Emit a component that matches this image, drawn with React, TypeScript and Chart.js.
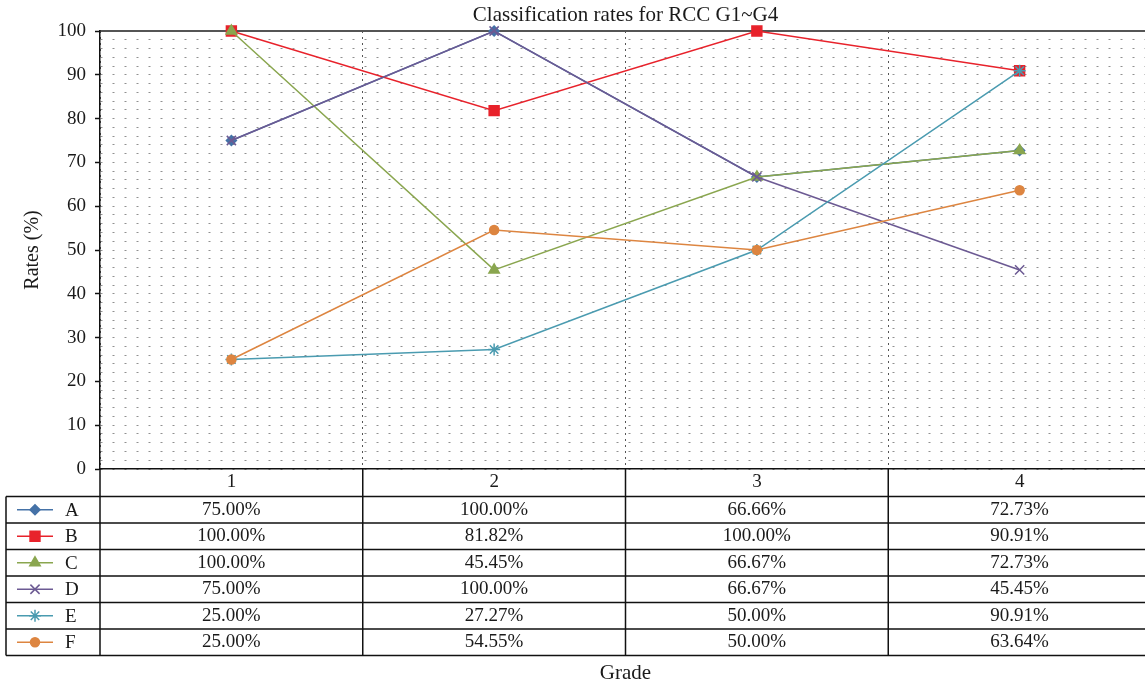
import React, { useEffect, useRef } from 'react';
import { Chart, registerables } from 'chart.js';
import { drawPoint } from 'chart.js/helpers';

Chart.register(...registerables);

const TITLE = 'Classification rates for RCC G1~G4';
const X_TITLE = 'Grade';
const Y_TITLE = 'Rates (%)';
const GRADES = ['1', '2', '3', '4'];
const SERIES_NAMES = ['A', 'B', 'C', 'D', 'E', 'F'];
const A_VALUES = [75.0, 100.0, 66.66, 72.73];
const B_VALUES = [100.0, 81.82, 100.0, 90.91];
const C_VALUES = [100.0, 45.45, 66.67, 72.73];
const D_VALUES = [75.0, 100.0, 66.67, 45.45];
const E_VALUES = [25.0, 27.27, 50.0, 90.91];
const F_VALUES = [25.0, 54.55, 50.0, 63.64];
const SERIES_VALUES = [A_VALUES, B_VALUES, C_VALUES, D_VALUES, E_VALUES, F_VALUES];

const COLORS = ['#4572A7', '#E8222B', '#8AA64F', '#6C5A93', '#4A9BB0', '#DD8540'];
const POINT_STYLES = ['rectRot', 'rect', 'triangle', 'crossRot', 'star', 'circle'];
const POINT_RADII = [5, 7, 6, 6.5, 6, 4.5];

const FONT = '"Liberation Serif", "DejaVu Serif", serif';
const FONT_SIZE = 19;
const TITLE_SIZE = 21;
const TEXT_COLOR = '#1a1a1a';
const LINE_COLOR = '#111';

const HEADER_H = 27.5;
const ROW_H = 26.5;
const TABLE_LEFT = 6;

const fmt = (v: number) => `${v.toFixed(2)}%`;

const tablePlugin = {
  id: 'dataTable',
  afterDraw(chart: any) {
    const { ctx, chartArea } = chart;
    const xs = chart.scales.x;
    const centers = GRADES.map((_, i) => xs.getPixelForValue(i));
    const half = (centers[1] - centers[0]) / 2;
    const bounds = [centers[0] - half, ...centers.map((c: number) => c + half)];
    const top = chartArea.bottom;
    const headerBottom = top + HEADER_H;
    const n = chart.data.datasets.length;
    const bottom = headerBottom + ROW_H * n;
    const right = bounds[bounds.length - 1];

    ctx.save();
    ctx.fillStyle = TEXT_COLOR;
    ctx.font = `${TITLE_SIZE}px ${FONT}`;
    ctx.textAlign = 'center';
    ctx.textBaseline = 'alphabetic';
    ctx.fillText(TITLE, (chartArea.left + chartArea.right) / 2, 21);

    ctx.strokeStyle = LINE_COLOR;
    ctx.lineWidth = 1.5;
    ctx.beginPath();
    for (let k = 0; k <= n; k++) {
      const y = headerBottom + k * ROW_H;
      ctx.moveTo(TABLE_LEFT, y);
      ctx.lineTo(right, y);
    }
    bounds.forEach((bx: number) => {
      ctx.moveTo(bx, top);
      ctx.lineTo(bx, bottom);
    });
    ctx.moveTo(TABLE_LEFT, headerBottom);
    ctx.lineTo(TABLE_LEFT, bottom);
    ctx.stroke();

    chart.data.datasets.forEach((ds: any, r: number) => {
      const cy = headerBottom + ROW_H * (r + 0.5);
      ctx.strokeStyle = ds.borderColor;
      ctx.fillStyle = ds.backgroundColor;
      ctx.lineWidth = 1.5;
      ctx.beginPath();
      ctx.moveTo(17, cy);
      ctx.lineTo(53, cy);
      ctx.stroke();
      drawPoint(ctx, { pointStyle: ds.pointStyle, radius: ds.pointRadius, rotation: 0, borderWidth: 1.5 }, 35, cy);

      ctx.fillStyle = TEXT_COLOR;
      ctx.font = `${FONT_SIZE}px ${FONT}`;
      ctx.textBaseline = 'middle';
      ctx.textAlign = 'left';
      ctx.fillText(ds.label, 65, cy + 1);
      ctx.textAlign = 'center';
      ds.data.forEach((v: number, i: number) => {
        ctx.fillText(fmt(v), centers[i], cy);
      });
    });
    ctx.restore();
  },
};

export default function App() {
  const ref = useRef<HTMLCanvasElement | null>(null);

  useEffect(() => {
    if (!ref.current) return;
    const datasets = SERIES_NAMES.map((name, i) => ({
      label: name,
      data: SERIES_VALUES[i],
      borderColor: COLORS[i],
      backgroundColor: COLORS[i],
      pointBackgroundColor: COLORS[i],
      pointBorderColor: COLORS[i],
      pointStyle: POINT_STYLES[i],
      pointRadius: POINT_RADII[i],
      pointHoverRadius: POINT_RADII[i],
      pointBorderWidth: 1.5,
      borderWidth: 1.5,
      tension: 0,
      fill: false,
      clip: false,
      order: SERIES_NAMES.length - i,
    }));

    const chart = new Chart(ref.current, {
      type: 'line',
      data: { labels: GRADES, datasets },
      plugins: [tablePlugin],
      options: {
        animation: false,
        responsive: false,
        events: [],
        layout: { autoPadding: false, padding: { top: 31, right: 1, bottom: 0, left: 0 } },
        plugins: {
          legend: { display: false },
          title: { display: false },
          tooltip: { enabled: false },
        },
        scales: {
          x: {
            type: 'category',
            position: 'bottom',
            offset: true,
            afterFit: (s: any) => {
              s.height = 217;
              s.paddingLeft = 0;
              s.paddingRight = 0;
            },
            grid: {
              offset: true,
              drawTicks: false,
              color: '#555',
              lineWidth: 1,
            },
            border: { display: true, color: LINE_COLOR, width: 1.5, dash: [2, 4] },
            ticks: {
              color: TEXT_COLOR,
              font: { family: FONT, size: FONT_SIZE },
              padding: 2,
              maxRotation: 0,
            },
            title: {
              display: true,
              text: X_TITLE,
              color: TEXT_COLOR,
              font: { family: FONT, size: TITLE_SIZE },
              padding: { top: 0, bottom: 0 },
            },
          },
          x2: {
            type: 'category',
            position: 'top',
            offset: true,
            afterFit: (s: any) => {
              s.height = 0;
              s.paddingLeft = 0;
              s.paddingRight = 0;
            },
            grid: { display: false, drawTicks: false },
            ticks: { display: false },
            border: { display: true, color: '#555', width: 2 },
          },
          y: {
            type: 'linear',
            min: 0,
            max: 100,
            afterFit: (s: any) => {
              s.width = 100;
              s.paddingTop = 0;
              s.paddingBottom = 0;
            },
            grid: {
              color: '#909090',
              lineWidth: 1,
              tickLength: 5,
              tickWidth: 1.5,
              tickColor: (c: any) => (c.tick && c.tick.value % 10 === 0 ? LINE_COLOR : 'rgba(0,0,0,0)'),
            },
            border: { display: true, color: LINE_COLOR, width: 1.5, dash: [2, 10] },
            ticks: {
              stepSize: 2,
              autoSkip: false,
              color: TEXT_COLOR,
              padding: 9,
              font: { family: FONT, size: FONT_SIZE },
              callback: (v: any) => (Number(v) % 10 === 0 ? String(v) : ''),
            },
            title: {
              display: true,
              text: Y_TITLE,
              color: TEXT_COLOR,
              font: { family: FONT, size: 20 },
              padding: { top: 21, bottom: 0 },
            },
          },
        },
      } as any,
    });
    return () => chart.destroy();
  }, []);

  return (
    <div style={{ position: 'fixed', left: 0, top: 0, width: 1145, height: 686, overflow: 'hidden', background: '#fff' }}>
      <canvas ref={ref} width={1152} height={686} style={{ width: 1152, height: 686, display: 'block' }} />
    </div>
  );
}
